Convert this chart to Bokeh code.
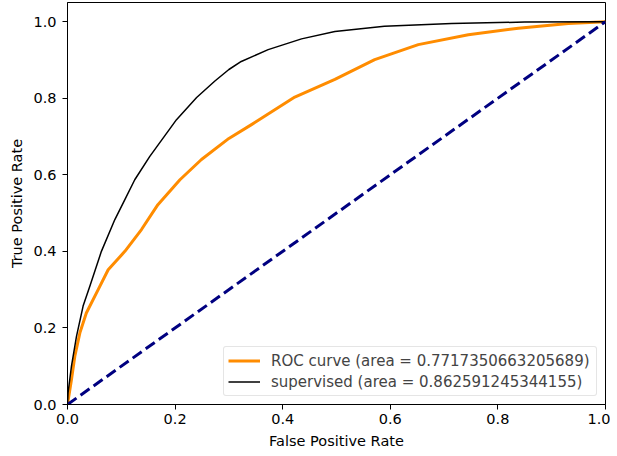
from bokeh.plotting import figure
from bokeh.models import Range1d, Legend, LegendItem
from bokeh.embed import file_html
from bokeh.resources import INLINE

# ROC curve (orange)
roc_fpr = [0.0, 0.0074, 0.0136, 0.023, 0.035, 0.057, 0.0756, 0.1066, 0.1375, 0.168,
           0.209, 0.249, 0.3, 0.342, 0.4225, 0.497, 0.571, 0.652, 0.745, 0.838,
           0.931, 1.0]
roc_tpr = [0.0, 0.065, 0.126, 0.187, 0.239, 0.30, 0.352, 0.40, 0.457, 0.522,
           0.587, 0.64, 0.695, 0.731, 0.803, 0.849, 0.901, 0.940, 0.966, 0.983,
           0.995, 1.0]

# supervised curve (black)
sup_fpr = [0.0, 0.001, 0.0074, 0.0167, 0.029, 0.0415, 0.063, 0.088, 0.1066, 0.125,
           0.153, 0.2026, 0.24, 0.274, 0.3, 0.323, 0.373, 0.435, 0.497, 0.589,
           0.714, 0.85, 1.0]
sup_tpr = [0.0, 0.03, 0.10, 0.178, 0.257, 0.309, 0.40, 0.483, 0.535, 0.587,
           0.648, 0.744, 0.802, 0.845, 0.875, 0.896, 0.927, 0.955, 0.974, 0.988,
           0.995, 0.999, 1.0]

diag = [0.0, 1.0]
ticks = [0.0, 0.2, 0.4, 0.6, 0.8, 1.0]

roc_label = "ROC curve (area = 0.7717350663205689)"
sup_label = "supervised (area = 0.862591245344155)"

FONT = "DejaVu Sans"
AX_FS = "14.5px"
LEG_FS = "15px"

p = figure(frame_width=538, frame_height=402, output_backend="svg",
           toolbar_location=None,
           x_range=Range1d(0, 1.0), y_range=Range1d(0, 1.05),
           min_border_left=67, min_border_right=5, min_border_top=2,
           min_border_bottom=51)

p.xgrid.visible = False
p.ygrid.visible = False
p.outline_line_color = "black"
p.outline_line_width = 1
p.background_fill_color = "white"
p.border_fill_color = "white"

r_roc = p.line(roc_fpr, roc_tpr, line_color="darkorange", line_width=3,
               line_join="round")
r_sup = p.line(sup_fpr, sup_tpr, line_color="black", line_width=1.5,
               line_join="round")
p.line(diag, diag, line_color="navy", line_width=3, line_dash="11 5")

for ax in (p.xaxis, p.yaxis):
    ax.axis_line_color = "black"
    ax.major_tick_line_color = "black"
    ax.minor_tick_line_color = None
    ax.major_tick_in = 0
    ax.major_tick_out = 5
    ax.major_label_text_font = FONT
    ax.major_label_text_font_size = AX_FS
    ax.major_label_text_color = "black"
    ax.axis_label_text_font = FONT
    ax.axis_label_text_font_size = AX_FS
    ax.axis_label_text_font_style = "normal"
    ax.axis_label_text_color = "black"

p.xaxis.ticker = ticks
p.yaxis.ticker = ticks
p.xaxis.major_label_overrides = {0: "0.0", 1: "1.0"}
p.yaxis.major_label_overrides = {0: "0.0", 1: "1.0"}
p.xaxis.major_label_standoff = 4
p.yaxis.major_label_standoff = 6
p.xaxis.axis_label = "False Positive Rate"
p.yaxis.axis_label = "True Positive Rate"
p.xaxis.axis_label_standoff = 6
p.yaxis.axis_label_standoff = 5

legend = Legend(items=[LegendItem(label=roc_label, renderers=[r_roc]),
                       LegendItem(label=sup_label, renderers=[r_sup])],
                location="bottom_right")
legend.margin = 8
legend.padding = 4
legend.spacing = 2
legend.glyph_width = 32
legend.glyph_height = 19
legend.label_standoff = 11
legend.label_width = 321
legend.label_text_font = FONT
legend.label_text_font_size = LEG_FS
legend.label_height = 19
legend.border_line_color = "#cccccc"
legend.border_line_width = 1
legend.background_fill_alpha = 0.8
if "border_radius" in Legend.properties():
    legend.border_radius = 3
p.add_layout(legend, "center")

open("out.html", "w").write(file_html(p, INLINE))
